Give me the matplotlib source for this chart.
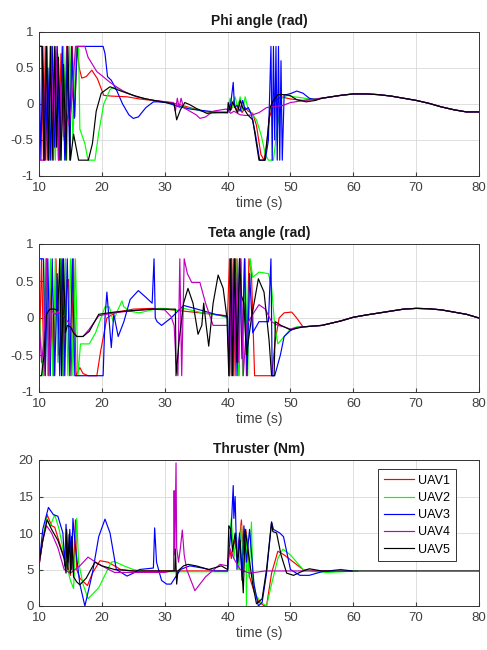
import matplotlib
import matplotlib.pyplot as plt

matplotlib.use('Agg')

plt.rcParams['font.family'] = ['Liberation Sans', 'DejaVu Sans']

labels = ['UAV1', 'UAV2', 'UAV3', 'UAV4', 'UAV5']
colors = ['r', 'lime', 'b', 'm', 'k']

# ---- Phi angle (rad) ----
phi_tail_t = [55, 58, 60, 62, 64, 66, 68, 70, 72, 74, 76, 78, 80]
phi_tail = [0.08, 0.12, 0.14, 0.14, 0.13, 0.11, 0.08, 0.05, 0.01, -0.04, -0.08, -0.11, -0.11]

phi1_t = [10, 10.4, 10.7, 11.0, 11.3, 11.6, 11.9, 12.3, 12.7, 13.1, 13.5, 14.0, 14.4, 14.9, 15.3, 15.7,
          16.0, 16.4, 16.8, 17.5, 18.4, 19.3, 20.3, 21.5, 24.0, 26.0, 28.0, 30.0, 32.0, 34.0, 36.0, 38.0,
          40.0, 40.3, 40.6, 41.0, 41.4, 41.8, 42.3, 42.8, 43.3, 44.0, 44.6, 45.3, 45.8, 46.2, 46.6, 47.0,
          47.6, 48.5, 50.0, 52.0, 53.5]
phi1 = [0.8, 0.8, -0.78, 0.8, -0.78, -0.3, 0.8, -0.78, 0.6, -0.78, 0.7, -0.5, 0.8, -0.3, 0.8, -0.18,
        0.8, 0.5, 0.36, 0.38, 0.47, 0.35, 0.12, 0.11, 0.1, 0.07, 0.05, 0.03, 0.0, -0.05, -0.1, -0.12,
        -0.11, 0.0, -0.08, 0.05, -0.1, 0.02, -0.12, -0.05, -0.1, -0.13, -0.3, -0.7, -0.78, -0.6, -0.2, -0.1,
        0.05, 0.1, 0.07, 0.05, 0.06]

phi2_t = [10, 10.5, 10.9, 11.3, 11.7, 12.2, 12.6, 13.0, 13.5, 13.9, 14.4, 14.9, 15.4, 15.9, 16.3, 16.5,
          17.3, 17.8, 18.9, 19.5, 20.3, 21.3, 22.0, 24.0, 26.0, 28.0, 30.0, 32.0, 34.0, 36.0, 38.0, 40.0,
          40.4, 40.8, 41.2, 41.6, 42.0, 42.4, 42.8, 43.2, 43.6, 44.0, 44.6, 45.4, 46.0, 46.5, 47.3, 47.8,
          48.6, 49.5, 50.5, 51.5, 53.0]
phi2 = [0.8, 0.8, -0.78, 0.8, -0.78, 0.8, -0.78, 0.7, -0.78, 0.8, -0.78, 0.8, -0.5, 0.8, 0.8, -0.35,
        -0.55, -0.78, -0.78, -0.4, 0.0, 0.2, 0.24, 0.15, 0.09, 0.05, 0.02, -0.02, -0.06, -0.1, -0.12, -0.12,
        0.08, -0.05, 0.1, -0.05, 0.1, -0.08, 0.1, -0.05, -0.1, -0.15, -0.22, -0.45, -0.7, -0.78, -0.78, -0.4,
        0.08, 0.12, 0.1, 0.09, 0.07]

phi3_t = [10, 10.3, 10.6, 11.0, 11.4, 11.8, 12.1, 12.5, 12.9, 13.3, 13.7, 14.1, 14.5, 14.9, 15.2, 15.6,
          16.1, 20.2, 20.5, 20.9, 21.5, 22.3, 23.3, 24.3, 25.0, 25.8, 27.0, 28.2, 29.0, 30.3, 32.0, 34.0,
          36.0, 38.0, 40.0, 40.5, 40.9, 41.1, 41.5, 42.0, 42.4, 42.8, 43.3, 43.8, 44.4, 45.1, 46.0, 46.5,
          46.9, 47.1, 47.3, 47.5, 47.7, 47.9, 48.1, 48.3, 48.5, 48.7, 49.0, 49.4, 50.2, 51.0, 52.0, 53.0, 54.0]
phi3 = [0.8, -0.78, 0.8, -0.78, 0.5, -0.78, 0.8, -0.6, 0.8, -0.78, 0.8, -0.78, 0.8, -0.78, 0.8, -0.2,
        0.8, 0.8, 0.7, 0.38, 0.33, 0.2, 0.0, -0.15, -0.2, -0.18, -0.05, 0.03, 0.03, 0.02, -0.03, -0.07,
        -0.09, -0.11, -0.12, 0.0, 0.3, -0.05, -0.02, -0.1, 0.05, -0.08, -0.05, -0.15, -0.4, -0.78, -0.78, -0.5,
        0.8, -0.78, 0.8, -0.5, 0.8, -0.78, 0.8, -0.78, 0.6, -0.78, 0.13, 0.13, 0.15, 0.18, 0.15, 0.08, 0.06]

phi4_t = [10, 10.1, 10.3, 10.9, 11.2, 11.5, 11.9, 12.3, 12.7, 13.1, 13.5, 13.9, 14.3, 14.8, 15.3, 15.8,
          16.3, 17.3, 17.8, 18.5, 19.2, 20.2, 21.3, 22.3, 23.4, 25.5, 28.2, 30.3, 31.4, 31.7, 32.0, 32.3,
          32.6, 33.0, 34.0, 35.0, 35.6, 36.5, 37.7, 39.8, 40.5, 41.0, 42.0, 43.0, 44.0, 45.0, 46.2, 48.8,
          50.0, 51.5, 53.0]
phi4 = [-0.08, -0.78, -0.78, -0.78, 0.8, -0.78, 0.8, -0.4, 0.8, -0.78, 0.3, -0.45, -0.1, -0.3, 0.1, 0.8,
        0.8, 0.8, 0.65, 0.55, 0.45, 0.38, 0.3, 0.24, 0.18, 0.1, 0.05, 0.03, 0.02, -0.1, 0.08, -0.05,
        0.08, -0.05, -0.1, -0.15, -0.2, -0.18, -0.1, -0.07, -0.13, -0.1, -0.15, -0.16, -0.15, -0.12, -0.05, -0.02,
        0.02, 0.04, 0.06]

phi5_t = [10, 10.5, 10.8, 11.2, 11.5, 11.8, 12.1, 12.5, 12.8, 13.1, 13.5, 13.9, 14.3, 14.6, 15.0, 15.5,
          16.3, 17.85, 18.5, 19.1, 19.9, 21.3, 22.4, 25.0, 27.0, 29.0, 31.5, 31.9, 32.5, 33.2, 34.0, 35.0,
          36.7, 38.0, 40.0, 40.1, 40.4, 40.8, 41.2, 41.6, 42.0, 42.4, 42.7, 43.2, 44.0, 45.0, 45.9, 46.4,
          46.8, 47.3, 48.0, 48.8, 49.9, 51.0, 52.5, 54.0]
phi5 = [0.8, 0.8, -0.78, 0.8, -0.78, 0.8, -0.78, 0.8, -0.6, 0.65, -0.78, 0.55, -0.78, 0.8, -0.78, -0.42,
        -0.78, -0.78, -0.55, -0.1, 0.15, 0.24, 0.2, 0.12, 0.07, 0.04, 0.0, -0.22, -0.08, 0.02, -0.01, -0.06,
        -0.13, -0.12, -0.12, 0.02, -0.1, 0.03, -0.05, -0.12, 0.05, -0.05, -0.08, -0.15, -0.22, -0.78, -0.78, -0.4,
        -0.04, 0.05, 0.13, 0.13, 0.12, 0.06, 0.03, 0.05]

# ---- Teta angle (rad) ----
teta_tail_t = [52, 55, 58, 60, 62, 65, 68, 70, 72, 74, 76, 78, 80]
teta_tail = [-0.12, -0.1, -0.04, 0.01, 0.04, 0.08, 0.12, 0.13, 0.125, 0.11, 0.08, 0.05, 0.0]

teta1_t = [10, 10.4, 10.8, 11.2, 11.5, 11.9, 12.3, 12.7, 13.1, 13.5, 13.9, 14.3, 14.7, 15.1, 15.5, 15.9,
           16.5, 17.0, 17.8, 19.2, 19.8, 20.8, 22.3, 25.0, 28.0, 30.0, 40.0, 40.3, 40.6, 40.9, 41.2, 41.5,
           41.8, 42.1, 42.4, 42.7, 43.0, 43.4, 43.8, 44.3, 47.0, 47.6, 48.2, 49.0, 50.2, 51.0]
teta1 = [-0.78, 0.8, -0.78, 0.8, -0.78, 0.5, -0.78, 0.8, -0.5, 0.8, -0.78, 0.5, 0.52, -0.78, 0.8, -0.78,
         -0.67, -0.75, -0.78, -0.78, -0.45, 0.0, 0.08, 0.12, 0.13, 0.12, 0.03, 0.8, -0.78, 0.8, -0.78, 0.8,
         -0.78, 0.8, -0.6, 0.8, -0.78, 0.8, 0.6, -0.78, -0.78, -0.3, 0.0, 0.07, 0.08, 0.0]

teta2_t = [10, 10.6, 11.0, 11.4, 11.8, 12.2, 12.6, 13.0, 13.4, 13.8, 14.2, 14.6, 15.0, 15.4, 15.8, 16.2,
           16.6, 18.0, 19.0, 20.5, 21.2, 21.8, 22.5, 23.2, 23.5, 24.5, 26.0, 29.0, 30.0, 32.0, 33.0, 36.0,
           39.0, 40.0, 40.3, 40.6, 40.9, 41.3, 41.7, 42.0, 42.4, 42.8, 43.2, 43.6, 44.0, 45.0, 46.5, 47.0,
           47.5, 48.0, 49.0, 50.0, 51.0]
teta2 = [0.15, -0.78, 0.8, -0.78, 0.8, -0.78, 0.8, -0.6, 0.8, -0.78, 0.8, -0.78, 0.8, -0.78, 0.8, -0.78,
         -0.35, -0.35, -0.2, 0.15, 0.15, -0.05, 0.1, 0.23, 0.15, 0.09, 0.07, 0.13, 0.13, 0.1, 0.13, 0.07,
         0.03, 0.0, -0.78, 0.8, -0.5, 0.8, -0.78, 0.8, -0.78, 0.8, -0.78, 0.8, 0.55, 0.62, 0.6, 0.42,
         -0.1, -0.35, -0.25, -0.15, -0.12]

teta3_t = [10, 10.7, 11.0, 11.4, 11.8, 12.1, 12.5, 12.9, 13.3, 13.7, 14.1, 14.5, 14.9, 15.3, 15.7, 16.5,
           20.2, 20.5, 20.8, 21.5, 21.9, 22.6, 23.5, 24.5, 25.8, 27.0, 28.0, 28.3, 28.5, 28.8, 29.5, 31.0,
           33.0, 36.0, 38.0, 40.0, 40.3, 40.6, 40.9, 41.2, 41.5, 41.9, 42.3, 42.7, 43.1, 43.5, 44.0, 45.0,
           46.5, 46.9, 47.1, 47.5, 48.4, 49.0, 50.0, 51.0]
teta3 = [0.8, 0.8, -0.78, 0.8, -0.78, 0.8, -0.78, 0.6, -0.78, 0.8, -0.78, 0.8, -0.78, 0.8, -0.78, -0.78,
         -0.78, 0.0, 0.35, -0.4, 0.05, -0.25, -0.05, 0.25, 0.37, 0.28, 0.2, 0.8, 0.0, -0.05, -0.1, 0.0,
         0.17, 0.1, 0.05, 0.02, -0.78, 0.8, -0.6, 0.8, -0.78, 0.8, -0.55, 0.8, -0.78, 0.6, -0.2, -0.05,
         -0.05, 0.8, -0.78, -0.78, -0.5, -0.25, -0.17, -0.13]

teta4_t = [10, 10.4, 10.8, 11.2, 11.6, 12.0, 12.5, 13.0, 14.0, 15.0, 15.5, 16.0, 17.0, 18.0, 19.5, 22.0,
           25.0, 28.0, 30.0, 31.0, 31.5, 31.8, 32.1, 32.4, 32.7, 33.1, 33.6, 34.3, 35.6, 36.5, 37.7, 40.0,
           40.3, 40.6, 40.9, 41.3, 41.7, 42.1, 42.5, 43.0, 44.0, 45.0, 46.0, 47.0, 48.0, 49.0, 50.0, 51.0]
teta4 = [0.0, -0.6, -0.3, 0.8, -0.78, 0.1, 0.05, 0.08, 0.02, -0.1, -0.18, -0.25, -0.25, -0.15, 0.03, 0.07,
         0.1, 0.12, 0.11, 0.02, -0.1, -0.6, -0.78, 0.8, -0.78, 0.8, 0.6, 0.48, 0.48, 0.2, -0.1, -0.1,
         -0.78, 0.8, -0.78, 0.6, -0.6, 0.8, -0.78, -0.1, 0.05, 0.18, 0.12, -0.05, -0.1, -0.12, -0.15, -0.13]

teta5_t = [10, 10.4, 10.8, 11.2, 11.7, 12.5, 13.0, 13.3, 13.6, 13.9, 14.2, 14.5, 15.0, 15.5, 16.0, 17.0,
           18.0, 19.5, 22.0, 25.0, 28.0, 31.7, 31.8, 32.3, 33.0, 33.7, 34.5, 35.3, 35.9, 36.2, 36.6, 37.0,
           37.7, 38.5, 39.3, 39.9, 40.2, 40.5, 40.8, 41.1, 41.5, 41.9, 42.2, 42.6, 43.0, 43.8, 44.9, 45.8,
           46.6, 47.0, 47.4, 47.6, 48.5, 50.0, 51.0]
teta5 = [-0.78, -0.78, -0.5, 0.05, 0.12, 0.12, 0.1, 0.8, -0.78, 0.8, -0.2, -0.1, -0.12, -0.2, -0.25, -0.25,
         -0.18, 0.05, 0.08, 0.1, 0.12, 0.12, -0.78, -0.3, 0.2, 0.4, 0.2, -0.22, -0.1, 0.2, -0.1, -0.38,
         0.2, 0.58, 0.4, 0.0, -0.78, 0.8, -0.78, 0.8, -0.6, 0.8, 0.3, 0.2, -0.5, 0.0, 0.53, 0.35,
         -0.3, -0.78, -0.78, -0.05, -0.1, -0.16, -0.14]

# ---- Thruster (Nm) ----
thr1_t = [10, 10.6, 11.3, 12.0, 12.5, 13.5, 14.5, 15.0, 15.3, 15.5, 15.8, 16.0, 16.5, 17.7, 18.5, 19.7,
          21.0, 23.0, 25.0, 40.0, 40.3, 40.6, 41.0, 41.5, 42.0, 42.2, 42.5, 42.9, 43.2, 43.5, 44.2, 45.0,
          45.9, 46.2, 47.0, 48.0, 49.0, 50.5, 52.0, 54.0, 57.0]
thr1 = [5.5, 9.0, 12.5, 11.0, 10.8, 8.0, 5.5, 4.2, 10.0, 4.0, 11.8, 5.0, 3.8, 2.8, 4.5, 6.2,
        6.0, 5.0, 4.8, 4.8, 8.0, 6.5, 9.0, 7.5, 10.0, 11.8, 7.0, 10.5, 8.5, 4.0, 2.0, 0.5,
        0.0, 0.0, 4.5, 7.5, 7.0, 6.0, 5.0, 4.8, 4.8]

thr2_t = [10, 10.6, 11.2, 11.8, 12.5, 13.2, 14.0, 15.0, 15.5, 15.8, 16.0, 16.3, 17.0, 17.8, 19.5, 21.5,
          22.0, 23.5, 25.0, 27.0, 40.0, 40.3, 40.6, 41.0, 41.4, 41.8, 42.2, 42.5, 42.9, 43.0, 43.1, 43.4,
          43.8, 44.0, 44.5, 45.3, 46.2, 47.0, 48.0, 48.8, 50.0, 52.0, 54.0, 56.0, 60.7]
thr2 = [5.8, 9.0, 12.0, 11.0, 12.5, 10.5, 7.0, 3.5, 2.4, 8.0, 12.0, 6.0, 3.0, 1.0, 2.5, 6.0,
        6.1, 5.5, 5.0, 4.7, 4.7, 9.0, 12.0, 6.5, 10.0, 5.0, 11.0, 4.5, 10.0, 0.0, 9.0, 4.0,
        11.5, 4.0, 1.5, 0.5, 0.0, 3.0, 6.5, 7.8, 7.0, 5.0, 4.7, 4.6, 4.8]

thr3_t = [10, 10.6, 11.5, 12.3, 13.0, 13.8, 14.1, 14.3, 14.6, 14.9, 15.2, 15.4, 15.8, 16.5, 17.3, 18.5,
          19.5, 20.5, 21.3, 22.3, 24.0, 25.0, 26.0, 28.2, 28.4, 28.7, 29.5, 30.3, 31.0, 32.5, 34.0, 36.0,
          38.0, 40.0, 40.3, 40.6, 40.9, 41.0, 41.2, 41.5, 41.9, 42.3, 42.6, 43.0, 43.5, 44.2, 44.9, 45.5,
          46.2, 47.0, 47.3, 48.3, 48.9, 50.0, 51.5, 53.0, 55.0, 58.0, 59.8]
thr3 = [5.5, 10.5, 13.5, 12.5, 12.3, 10.0, 5.5, 11.2, 6.0, 10.5, 5.0, 12.0, 8.0, 3.0, 0.0, 4.5,
        9.5, 11.9, 10.0, 5.0, 4.1, 4.5, 5.0, 5.2, 10.7, 6.0, 3.5, 3.0, 3.0, 5.0, 5.5, 5.2,
        4.8, 4.8, 8.0, 11.0, 16.5, 12.0, 15.0, 5.0, 10.0, 3.5, 11.0, 6.0, 10.5, 3.0, 0.0, 0.5,
        4.5, 11.5, 10.5, 10.0, 9.5, 5.0, 4.2, 4.2, 4.7, 5.0, 4.8]

thr4_t = [10, 10.6, 11.2, 12.0, 13.0, 14.0, 15.0, 16.5, 17.8, 19.0, 20.0, 22.0, 30.0, 31.0, 31.4, 31.5,
          31.6, 31.8, 31.9, 32.2, 32.5, 32.8, 33.1, 33.5, 34.8, 36.5, 38.8, 40.0, 40.3, 41.0, 42.0, 43.5,
          46.0, 53.0, 56.0]
thr4 = [5.5, 9.0, 11.0, 10.0, 8.0, 5.0, 4.5, 5.5, 6.7, 6.0, 5.5, 4.6, 4.6, 4.8, 4.8, 15.8,
        7.0, 19.6, 8.0, 6.0, 8.0, 10.4, 7.0, 5.0, 2.1, 4.0, 5.7, 5.5, 8.0, 6.5, 5.0, 4.5,
        4.8, 4.8, 4.8]

thr5_t = [10, 10.6, 11.3, 12.0, 13.0, 14.0, 14.3, 14.4, 14.6, 14.8, 15.0, 15.2, 15.5, 16.0, 16.5, 17.5,
          18.9, 20.0, 22.0, 25.0, 31.6, 31.7, 31.9, 32.1, 33.0, 33.7, 35.0, 37.0, 39.0, 40.0, 40.2, 40.5,
          40.8, 41.2, 41.6, 42.0, 42.5, 42.8, 43.2, 44.0, 44.6, 45.5, 46.2, 47.0, 47.2, 47.8, 48.5, 49.4,
          50.5, 52.0, 53.0, 55.0, 80.0]
thr5 = [5.8, 9.0, 11.8, 10.5, 9.0, 6.5, 4.5, 10.5, 5.0, 9.8, 4.5, 9.5, 4.0, 3.3, 2.9, 3.8,
        6.0, 5.5, 5.0, 4.8, 4.8, 7.8, 3.0, 4.8, 5.5, 5.7, 5.5, 5.0, 5.5, 5.0, 11.0, 10.5,
        7.5, 10.0, 6.0, 9.0, 1.8, 10.5, 8.0, 3.0, 0.3, 1.0, 5.0, 11.5, 10.2, 10.0, 7.0, 4.5,
        4.2, 4.8, 5.1, 4.8, 4.8]

phi_series = [(phi1_t, phi1), (phi2_t, phi2), (phi3_t, phi3), (phi4_t, phi4), (phi5_t, phi5)]
teta_series = [(teta1_t, teta1), (teta2_t, teta2), (teta3_t, teta3), (teta4_t, teta4), (teta5_t, teta5)]
thr_series = [(thr1_t, thr1), (thr2_t, thr2), (thr3_t, thr3), (thr4_t, thr4), (thr5_t, thr5)]

fig = plt.figure(figsize=(4.87, 6.5), dpi=100)
ax1 = fig.add_axes([39 / 487, 1 - 176 / 650, 440 / 487, 144 / 650])
ax2 = fig.add_axes([39 / 487, 1 - 392 / 650, 440 / 487, 148 / 650])
ax3 = fig.add_axes([39 / 487, 1 - 606 / 650, 440 / 487, 146 / 650])

for (t, v), c in zip(phi_series, colors):
    ax1.plot(t + phi_tail_t, v + phi_tail, color=c, lw=0.85)
for (t, v), c in zip(teta_series, colors):
    ax2.plot(t + teta_tail_t, v + teta_tail, color=c, lw=0.85)
for (t, v), c, lab in zip(thr_series, colors, labels):
    ax3.plot(t, v, color=c, lw=0.85, label=lab)

titles = ['Phi angle (rad)', 'Teta angle (rad)', 'Thruster (Nm)']
for ax, title in zip([ax1, ax2, ax3], titles):
    ax.set_xlim(10, 80)
    ax.set_xticks([10, 20, 30, 40, 50, 60, 70, 80])
    ax.grid(True, color='0.85', lw=0.6)
    ax.set_axisbelow(True)
    ax.tick_params(direction='in', length=3, labelsize=9.5, colors='0.25', pad=4)
    for s in ax.spines.values():
        s.set_color('0.2')
        s.set_linewidth(0.7)
    ax.set_title(title, fontsize=10, fontweight='bold', pad=5, color='0.1')
    ax.set_xlabel('time (s)', fontsize=10, color='0.25', labelpad=2)

for ax in [ax1, ax2]:
    ax.set_ylim(-1, 1)
    ax.set_yticks([-1, -0.5, 0, 0.5, 1])
    ax.set_yticklabels(['-1', '-0.5', '0', '0.5', '1'])
ax3.set_ylim(0, 20)
ax3.set_yticks([0, 5, 10, 15, 20])

leg = ax3.legend(loc='upper right', bbox_to_anchor=(0.948, 0.938), fontsize=9, fancybox=False,
                 edgecolor='0.2', framealpha=1, handlelength=2.4, borderaxespad=0, labelspacing=0.42,
                 borderpad=0.45, handletextpad=0.35)
leg.get_frame().set_linewidth(0.7)

fig.savefig('out.png', dpi=100)
